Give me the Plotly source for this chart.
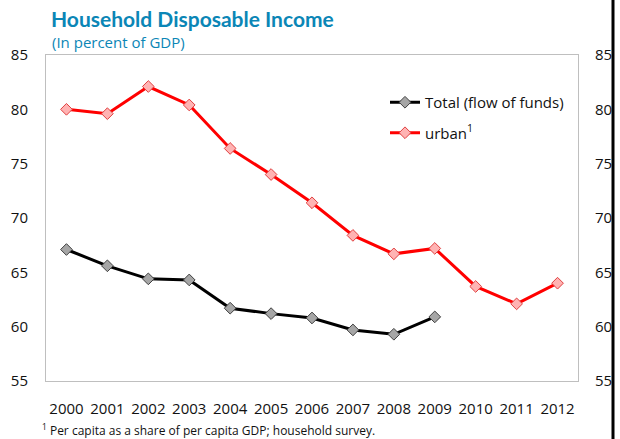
import plotly.graph_objects as go

years = ["2000","2001","2002","2003","2004","2005","2006","2007","2008","2009","2010","2011","2012"]
total_years = years[:10]
total = [67.1, 65.6, 64.4, 64.3, 61.7, 61.2, 60.8, 59.7, 59.3, 60.9]
urban = [80.0, 79.6, 82.1, 80.4, 76.4, 74.0, 71.4, 68.4, 66.7, 67.2, 63.7, 62.1, 64.0]
yticks = [55, 60, 65, 70, 75, 80, 85]

FONT = "Open Sans"
BLUE = "#0b86b6"
L, R, T, B = 46, 42, 55, 58
PW = 620 - L - R
PH = 439 - T - B

fig = go.Figure()
fig.add_trace(go.Scatter(
    x=total_years, y=total, name="Total (flow of funds)", mode="lines+markers", legendgroup="a",
    line=dict(color="black", width=3),
    marker=dict(symbol="diamond", size=9, color="#a6a6a6", line=dict(color="#404040", width=1)),
))
fig.add_trace(go.Scatter(
    x=years, y=urban, name="urban<sup>1</sup>", mode="lines+markers", legendgroup="b",
    line=dict(color="#ff0000", width=3),
    marker=dict(symbol="diamond", size=9, color="#ffb3b3", line=dict(color="#e04040", width=1)),
))
# invisible trace on right axis
fig.add_trace(go.Scatter(x=years, y=urban, yaxis="y2", mode="lines", line=dict(width=0),
                         showlegend=False, hoverinfo="skip", opacity=0))

fig.update_layout(
    width=620, height=439,
    margin=dict(l=L, r=R, t=T, b=B, autoexpand=False),
    paper_bgcolor="white", plot_bgcolor="white",
    font=dict(family=FONT, size=15, color="#111111"),
    xaxis=dict(type="category", categoryorder="array", categoryarray=years, automargin=False,
               range=[-0.5, len(years) - 0.5],
               showgrid=False, zeroline=False, showline=True, linecolor="#bfbfbf", linewidth=1,
               mirror=True, ticks="", ticklabelstandoff=14, tickfont=dict(size=15)),
    yaxis=dict(range=[55, 85], tickvals=yticks, showgrid=False, zeroline=False, automargin=False,
               showline=True, linecolor="#bfbfbf", linewidth=1, mirror=True,
               ticks="", ticklabelstandoff=14, tickfont=dict(size=15)),
    yaxis2=dict(range=[55, 85], tickvals=yticks, overlaying="y", side="right", automargin=False,
                showgrid=False, zeroline=False, showline=False, ticks="",
                ticklabelstandoff=16, tickfont=dict(size=15)),
    legend=dict(x=(385-L)/PW, y=1-(86-T)/PH, xanchor="left", yanchor="top", bgcolor="rgba(0,0,0,0)",
                font=dict(size=15), tracegroupgap=8, itemwidth=30),
    showlegend=True,
)

fig.add_annotation(text="<b>Household Disposable Income</b>", xref="paper", yref="paper",
                   x=(49-L)/PW, y=1 + (T-18)/PH, xanchor="left", yanchor="middle",
                   showarrow=False, font=dict(size=21, color=BLUE, family="Lato"))
fig.add_annotation(text="(In percent of GDP)", xref="paper", yref="paper",
                   x=(50-L)/PW, y=1 + (T-42)/PH, xanchor="left", yanchor="middle",
                   showarrow=False, font=dict(size=15, color=BLUE, family=FONT))
fig.add_annotation(text="<sup>1</sup> Per capita as a share of per capita GDP; household survey.",
                   xref="paper", yref="paper", x=(40-L)/PW, y=-(430-(439-B))/PH,
                   xanchor="left", yanchor="middle", showarrow=False,
                   font=dict(size=12, color="#111111", family=FONT))
fig.add_shape(type="line", xref="paper", yref="paper",
              x0=(613-L)/PW, x1=(613-L)/PW, y0=-B/PH - 0.01, y1=1 + T/PH + 0.01,
              line=dict(color="black", width=3))

fig.write_html("out.html", config={"displayModeBar": False},
               post_script="document.body.style.margin='0';")
